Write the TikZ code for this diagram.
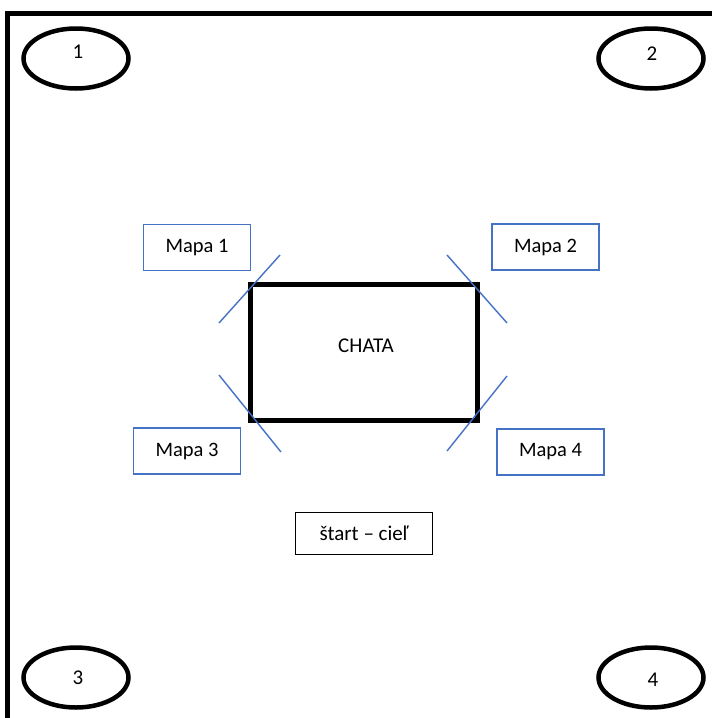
\documentclass[tikz,border=0pt]{standalone}
\usepackage{fontspec}
\setmainfont{Carlito}
\usetikzlibrary{shapes.geometric}
\definecolor{offblue}{HTML}{4472C4}
\tikzset{
  oval/.style={draw=black, line width=4.5pt, ellipse, minimum width=105pt, minimum height=60pt, inner sep=0pt},
  lbl/.style={font=\fontsize{21}{25}\selectfont, inner sep=0pt},
  mapbox/.style={draw=offblue, line width=1.3pt, minimum width=107pt, minimum height=46pt, font=\fontsize{20.5}{24}\selectfont, inner sep=0pt},
  startbox/.style={draw=black, line width=1.3pt, minimum width=137pt, minimum height=42pt, font=\fontsize{21}{25}\selectfont, inner sep=0pt},
  hut/.style={draw=black, line width=5pt},
  diag/.style={draw=offblue, line width=1.4pt},
  frame/.style={draw=black, line width=5pt}
}
\begin{document}
\begin{tikzpicture}[x=1pt, y=-1pt]
\useasboundingbox (0,0) rectangle (712,718);
% outer frame
\coordinate (fb) at (7.5,725);
\coordinate (fc) at (7.5,13.5);
\coordinate (fr) at (720,13.5);
\draw[frame] (fb) -- (fc) -- (fr);
% corner ovals
\node[oval] (e1) at (76,58.5) {};
\node[oval] (e2) at (651,58.5) {};
\node[oval] (e3) at (76,677.5) {};
\node[oval] (e4) at (651,677.5) {};
\node[lbl] (t1) at (78,52) {1};
\node[lbl] (t2) at (652,53.5) {2};
\node[lbl] (t3) at (78,678) {3};
\node[lbl] (t4) at (653,679.5) {4};
% hut
\coordinate (h1) at (250,284.5);
\coordinate (h2) at (477,420.5);
\draw[hut] (h1) rectangle (h2);
\node[lbl] (chata) at (366,346) {CHATA};
% maps
\node[mapbox] (m1) at (197,247.5) {Mapa 1};
\node[mapbox] (m2) at (545.5,247) {Mapa 2};
\node[mapbox] (m3) at (187,451) {Mapa 3};
\node[mapbox] (m4) at (550.5,452) {Mapa 4};
% diagonal marks
\coordinate (d1a) at (280,255); \coordinate (d1b) at (219,323);
\coordinate (d2a) at (447,255); \coordinate (d2b) at (507,323);
\coordinate (d3a) at (219,375); \coordinate (d3b) at (281,452);
\coordinate (d4a) at (507,376); \coordinate (d4b) at (447,451);
\draw[diag] (d1a) -- (d1b);
\draw[diag] (d2a) -- (d2b);
\draw[diag] (d3a) -- (d3b);
\draw[diag] (d4a) -- (d4b);
% start
\node[startbox] (st) at (364,533.5) {štart – cieľ};
\end{tikzpicture}
\end{document}
